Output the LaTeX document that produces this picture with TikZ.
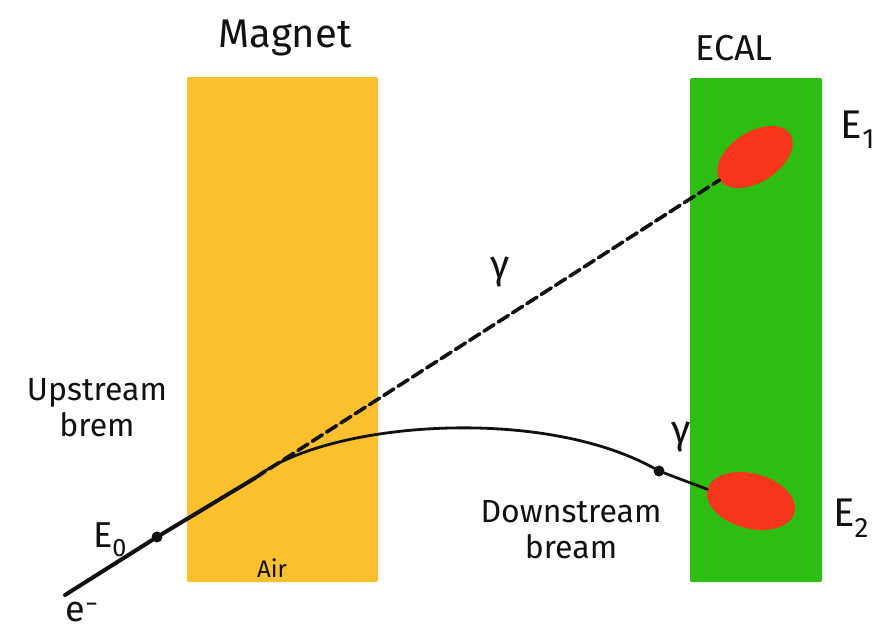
\documentclass[tikz,border=0pt]{standalone}
\usepackage{fontspec}
\setmainfont{Fira Sans}
\usetikzlibrary{positioning,shapes.geometric}
\definecolor{bremInk}{HTML}{111111}
\definecolor{bremYellow}{HTML}{FBC02D}
\definecolor{bremGreen}{HTML}{2EBD12}
\definecolor{bremRed}{HTML}{F8361C}
\tikzset{
 sketch/.style={line cap=round,line join=round,text=bremInk},
 block/.style={rectangle,draw=none,inner sep=0pt,rounded corners=2pt},
 shower/.style={ellipse,fill=bremRed,draw=none,inner sep=0pt},
 vertex/.style={circle,fill=bremInk,inner sep=0pt,minimum size=11pt},
 tag/.style={font=\fontsize{32}{36}\selectfont,inner sep=0pt,align=center},
 bigtag/.style={tag,font=\fontsize{40}{44}\selectfont},
 smalltag/.style={font=\fontsize{24}{28}\selectfont,inner sep=0pt},
 electron/.style={draw=bremInk,line width=2.8pt},
 photon/.style={draw=bremInk,line width=3.6pt,dash pattern=on 12pt off 5pt}
}

\begin{document}
\begin{tikzpicture}[sketch,x=1pt,y=-1pt]
 \useasboundingbox[fill=white] (0,0) rectangle (886,638);
 % detectors
 \node[block,fill=bremYellow,minimum width=191pt,minimum height=505pt] (magnet) at (282.5,329.5) {};
 \node[block,fill=bremGreen,minimum width=132pt,minimum height=504pt] (ecal) at (756,330) {};
 \node[shower,rotate=33,minimum width=84pt,minimum height=50pt] (e1) at (755,157) {};
 \node[shower,rotate=-15,minimum width=90pt,minimum height=55pt] (e2) at (751,501) {};
 % tracks
 \coordinate (start) at (65,595);
 \node[vertex] (e0) at (157,537) {};
 \coordinate (split) at (255,478);
 \node[vertex] (kink) at (659,471) {};
 \draw[electron,line width=4pt] (start) -- (e0) -- (split);
 \draw[photon] (split) -- (e1.west);
 \draw[electron] (split) .. controls (325,422) and (540,405) .. (kink) -- (e2.west);
 % labels
 \node[bigtag] (magnetname) at (285,38) {Magnet};
 \node[tag,font=\fontsize{36}{40}\selectfont] (ecalname) at (734,48) {ECAL};
 \node[bigtag] (e1name) at (858,130) {E\textsubscript{1}};
 \node[bigtag] (e2name) at (851,518) {E\textsubscript{2}};
 \node[tag,font=\fontsize{36}{40}\selectfont] (e0name) at (110,540) {E\textsubscript{0}};
 \node[tag,font=\fontsize{36}{40}\selectfont] (beamname) at (82,612) {e\textsuperscript{−}};
 \node[bigtag] (gammaup) at (500,272) {γ};
 \node[bigtag] (gammadown) at (681,437) {γ};
 \node[tag] (upname) at (97,408) {Upstream\\brem};
 \node[tag] (downname) at (571,530) {Downstream\\bream};
 \node[smalltag] (airname) at (272,568) {Air};
\end{tikzpicture}
\end{document}
